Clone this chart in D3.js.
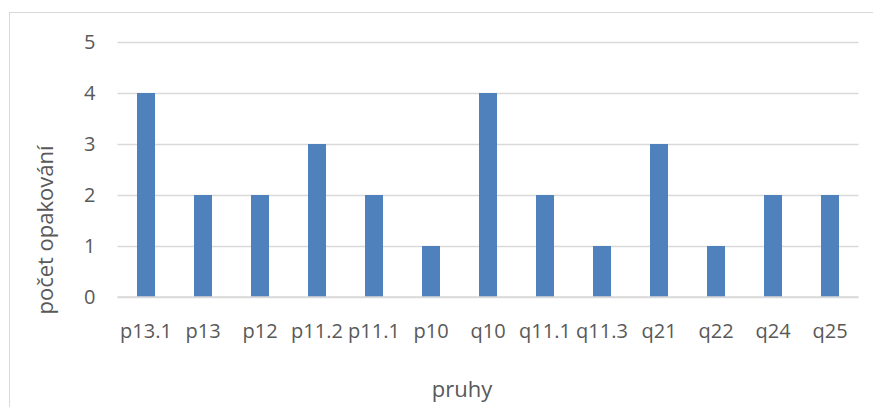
<!DOCTYPE html>
<html>
<head>
<meta charset="utf-8">
<script src="https://cdn.jsdelivr.net/npm/d3@7"></script>
<style>
  html, body { margin: 0; padding: 0; background: #ffffff; }
  svg { display: block; }
  text { font-family: "Open Sans", sans-serif; fill: #595959; }
</style>
</head>
<body>
<svg id="chart" width="873" height="407"></svg>
<script>
const categories = ["p13.1", "p13", "p12", "p11.2", "p11.1", "p10", "q10", "q11.1", "q11.3", "q21", "q22", "q24", "q25"];
const values = [4, 2, 2, 3, 2, 1, 4, 2, 1, 3, 1, 2, 2];
const yTicks = [0, 1, 2, 3, 4, 5];
const xTitle = "pruhy";
const yTitle = "počet opakování";

const svg = d3.select("#chart");
const W = 873, H = 407;
const plot = { left: 117.5, right: 858.5, top: 42, bottom: 297 };

// outer chart border
svg.append("rect")
  .attr("x", 9.5).attr("y", 12.5)
  .attr("width", W + 10).attr("height", H + 10)
  .attr("fill", "none").attr("stroke", "#d9d9d9").attr("stroke-width", 1);

const x = d3.scaleBand()
  .domain(categories)
  .range([plot.left, plot.right])
  .paddingInner(0.684)
  .paddingOuter(0.342);

const y = d3.scaleLinear()
  .domain([0, 5])
  .range([plot.bottom, plot.top]);

// gridlines
const yAxis = d3.axisLeft(y)
  .tickValues(yTicks)
  .tickSize(-(plot.right - plot.left))
  .tickPadding(22)
  .tickFormat(d3.format("d"));

const gy = svg.append("g")
  .attr("transform", `translate(${plot.left},0)`)
  .call(yAxis);
gy.select(".domain").remove();
gy.selectAll(".tick line").attr("stroke", "#d9d9d9").attr("stroke-width", 1.5);
gy.selectAll(".tick text")
  .attr("font-size", 20)
  .attr("fill", "#595959")
  .style("font-family", "'Open Sans', sans-serif");

// bars
svg.append("g")
  .selectAll("rect")
  .data(categories)
  .join("rect")
  .attr("x", d => x(d))
  .attr("y", (d, i) => y(values[i]))
  .attr("width", x.bandwidth())
  .attr("height", (d, i) => y(0) - y(values[i]))
  .attr("fill", "#4f81bd");

// x axis
const xAxis = d3.axisBottom(x).tickSize(0).tickPadding(27);
const gx = svg.append("g")
  .attr("transform", `translate(0,${plot.bottom})`)
  .call(xAxis);
gx.select(".domain")
  .attr("stroke", "#d9d9d9").attr("stroke-width", 1.5)
  .attr("d", `M${plot.left},0H${plot.right}`);
gx.selectAll(".tick text")
  .attr("font-size", 20)
  .attr("fill", "#595959")
  .style("font-family", "'Open Sans', sans-serif");

// axis titles
svg.append("text")
  .attr("x", (plot.left + plot.right) / 2 - 26)
  .attr("y", 397)
  .attr("text-anchor", "middle")
  .attr("font-size", 22)
  .text(xTitle);

svg.append("text")
  .attr("transform", "translate(53,230) rotate(-90)")
  .attr("text-anchor", "middle")
  .attr("font-size", 22)
  .text(yTitle);
</script>
</body>
</html>
